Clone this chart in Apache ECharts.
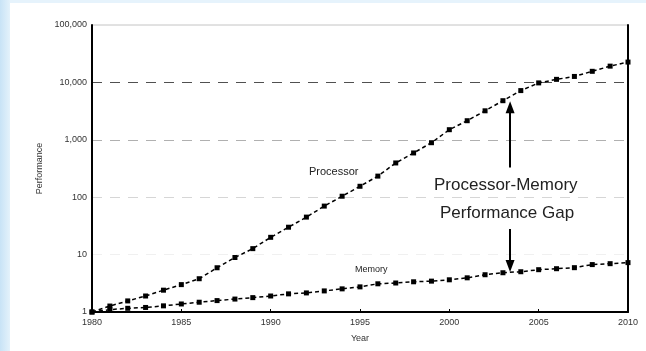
<!DOCTYPE html>
<html>
<head>
<meta charset="utf-8">
<script src="https://cdn.jsdelivr.net/npm/echarts@6/dist/echarts.min.js"></script>
<style>
  html, body { margin: 0; padding: 0; }
  body { width: 646px; height: 351px; background: #e6f3fc; position: relative; overflow: hidden; }
  #side { position: absolute; left: 0; top: 0; width: 10px; height: 351px; background: linear-gradient(to right, #c8e3f6, #e4f2fb); }
  #chart { position: absolute; left: 10px; top: 3px; width: 636px; height: 348px; background: #fff; }
</style>
</head>
<body>
<div id="side"></div>
<div id="chart"></div>
<script>
// years on the x axis
const years = [1980, 1981, 1982, 1983, 1984, 1985, 1986, 1987, 1988, 1989,
  1990, 1991, 1992, 1993, 1994, 1995, 1996, 1997, 1998, 1999,
  2000, 2001, 2002, 2003, 2004, 2005, 2006, 2007, 2008, 2009, 2010];

// relative performance (1980 = 1)
const processor = [1, 1.27, 1.56, 1.9, 2.4, 3.0, 3.8, 5.9, 8.9, 12.7,
  20, 30, 45, 70, 104, 155, 233, 395, 590, 890,
  1500, 2150, 3200, 4800, 7200, 9800, 11300, 12700, 15600, 19200, 22600];

const memory = [1, 1.1, 1.16, 1.2, 1.28, 1.38, 1.48, 1.58, 1.68, 1.78,
  1.9, 2.07, 2.15, 2.33, 2.53, 2.74, 3.1, 3.2, 3.36, 3.45,
  3.64, 3.94, 4.46, 4.83, 5.03, 5.46, 5.68, 5.92, 6.7, 6.95, 7.25];

// gap arrow: x position and value ends
const gapYear = 2003.4;
const gapUp = [330, 3700];
const gapDown = [28, 6.3];

const chart = echarts.init(document.getElementById('chart'));
const font = 'Liberation Sans, Arial, sans-serif';

const pair = arr => years.map((y, i) => [y, arr[i]]);

const option = {
  animation: false,
  grid: {
    left: 82, right: 18, top: 22, bottom: 39,
    show: true, borderColor: '#c4c4c4', borderWidth: 1
  },
  xAxis: {
    type: 'value',
    min: 1980, max: 2010, interval: 5,
    name: 'Year', nameLocation: 'middle', nameGap: 22,
    nameTextStyle: { fontFamily: font, fontSize: 9, color: '#333' },
    axisLine: { lineStyle: { color: '#000', width: 2 } },
    axisTick: { inside: true, length: 3, lineStyle: { color: '#000' } },
    axisLabel: { fontFamily: font, fontSize: 9, color: '#333', margin: 6, formatter: v => String(v) },
    splitLine: { show: false }
  },
  yAxis: [{
    type: 'log', logBase: 10, min: 1, max: 100000,
    name: 'Performance', nameLocation: 'middle', nameGap: 48,
    nameTextStyle: { fontFamily: font, fontSize: 9, color: '#333' },
    axisLine: { show: true, lineStyle: { color: '#000', width: 2 } },
    axisTick: { show: false },
    axisLabel: {
      fontFamily: font, fontSize: 9, color: '#333', margin: 5,
      formatter: v => Number(v).toLocaleString('en-US')
    },
    splitLine: {
      show: true,
      lineStyle: { type: [10, 8], width: 1, color: ['transparent', '#f0f0f0', '#d6d6d6', '#b0b0b0', '#505050', 'transparent'] }
    }
  }, {
    type: 'log', logBase: 10, min: 1, max: 100000, position: 'right',
    axisLine: { show: true, lineStyle: { color: '#000', width: 2 } },
    axisTick: { show: false }, axisLabel: { show: false }, splitLine: { show: false }
  }],
  series: [{
    name: 'Processor', type: 'line', data: pair(processor),
    symbol: 'rect', symbolSize: 5,
    itemStyle: { color: '#000' },
    lineStyle: { color: '#000', width: 1.5, type: [4, 3] },
    markLine: {
      silent: true, symbol: ['none', 'triangle'], symbolSize: [9, 12],
      lineStyle: { color: '#000', width: 2, type: 'solid' },
      label: { show: false },
      data: [
        [{ coord: [gapYear, gapUp[0]] }, { coord: [gapYear, gapUp[1]] }],
        [{ coord: [gapYear, gapDown[0]] }, { coord: [gapYear, gapDown[1]] }]
      ]
    },
    z: 3
  }, {
    name: 'Memory', type: 'line', data: pair(memory),
    symbol: 'rect', symbolSize: 5,
    itemStyle: { color: '#000' },
    lineStyle: { color: '#000', width: 1.5, type: [4, 3] },
    z: 3
  }],
  graphic: [
    { type: 'text', left: 299, top: 163, style: { text: 'Processor', font: '11px ' + font, fill: '#222' } },
    { type: 'text', left: 345, top: 262, style: { text: 'Memory', font: '9px ' + font, fill: '#222' } },
    { type: 'text', left: 424, top: 174, style: { text: 'Processor-Memory', font: '17px ' + font, fill: '#222' } },
    { type: 'text', left: 430, top: 202, style: { text: 'Performance Gap', font: '17px ' + font, fill: '#222' } }
  ]
};

chart.setOption(option);
</script>
</body>
</html>
